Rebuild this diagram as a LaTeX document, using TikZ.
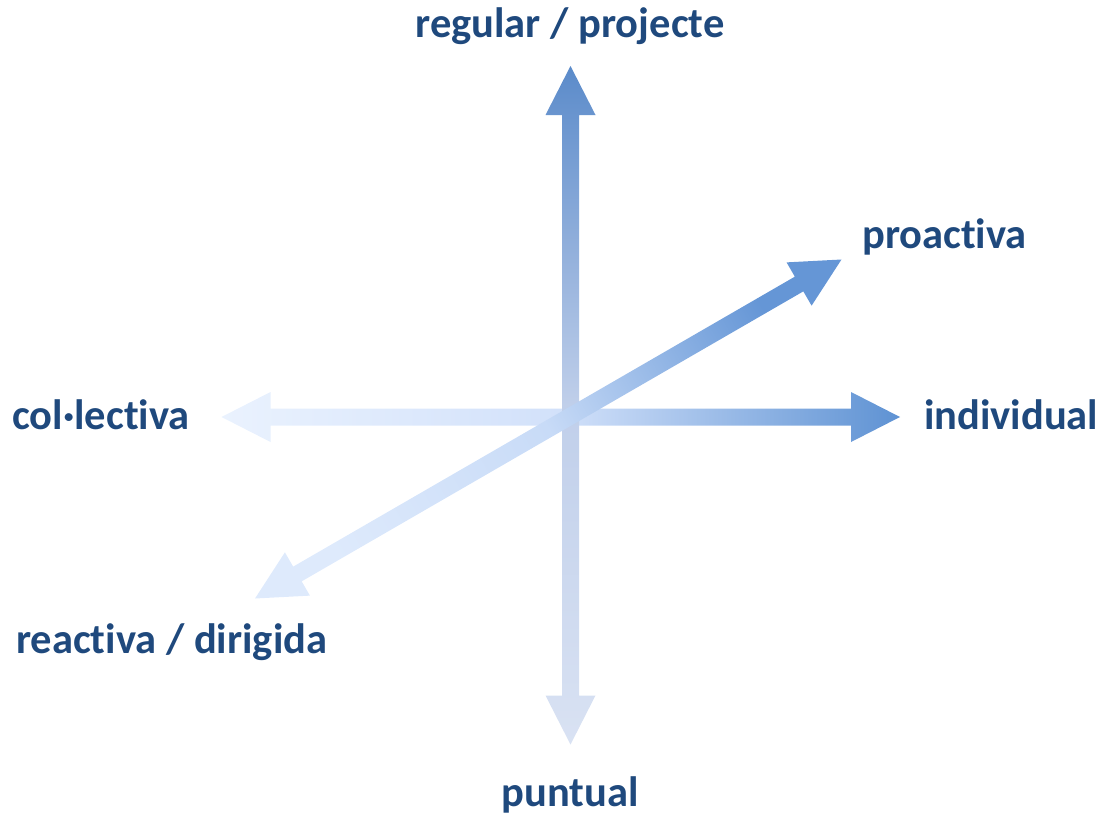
\documentclass[tikz,border=0pt]{standalone}
\usepackage{fontspec}
\setmainfont{Carlito}[Ligatures=NoCommon]
\usepackage{xcolor}
\usepackage{tikz}
\usetikzlibrary{calc}

\definecolor{labelblue}{HTML}{1F497D}
\definecolor{vdark}{HTML}{5B8BCA}
\definecolor{vmid}{HTML}{C0CFEA}
\definecolor{vlight}{HTML}{D9E2F3}
\definecolor{hdark}{HTML}{5E92D3}
\definecolor{hmid}{HTML}{D2E1FA}
\definecolor{hlight}{HTML}{EAF2FE}
\definecolor{ddark}{HTML}{6596D6}
\definecolor{dmid}{HTML}{C8DBF7}
\definecolor{dlight}{HTML}{DEEAFC}

\newcommand{\headlen}{49pt}
\newcommand{\headw}{25pt}
\newcommand{\shaftw}{8.5pt}
% #1 from, #2 to, #3 #4 #5 colours from -> to, #6 shading angle
\newcommand{\dblarrow}[6]{%
\shade[left color=#3, right color=#5, middle color=#4, shading angle=#6]
  (#1) -- ($(#1)!\headlen!(#2)!\headw!90:(#2)$) -- ($(#1)!\headlen!(#2)!\shaftw!90:(#2)$)
  -- ($(#2)!\headlen!(#1)!\shaftw!-90:(#1)$) -- ($(#2)!\headlen!(#1)!\headw!-90:(#1)$)
  -- (#2) -- ($(#2)!\headlen!(#1)!\headw!90:(#1)$) -- ($(#2)!\headlen!(#1)!\shaftw!90:(#1)$)
  -- ($(#1)!\headlen!(#2)!\shaftw!-90:(#2)$) -- ($(#1)!\headlen!(#2)!\headw!-90:(#2)$) -- cycle;}

\tikzset{axislabel/.style={text=labelblue, font=\fontsize{42.5}{50}\selectfont\bfseries, inner sep=0pt}}

\begin{document}
\begin{tikzpicture}[x=1pt, y=-1pt]
\useasboundingbox (0,0) rectangle (1106,816);
% arrow tips
\coordinate (regtip) at (570.5,66);
\coordinate (puntip) at (570.5,744.5);
\coordinate (coltip) at (221.5,417);
\coordinate (indtip) at (900,417);
\coordinate (reatip) at (255,598.5);
\coordinate (protip) at (841.5,259.5);
% axes
\dblarrow{coltip}{indtip}{hlight}{hmid}{hdark}{90}
\dblarrow{puntip}{regtip}{vlight}{vmid}{vdark}{180}
\dblarrow{reatip}{protip}{dlight}{dmid}{ddark}{120}
% labels
\node[axislabel, anchor=base] (regular) at (570,38) {regular / projecte};
\node[axislabel, anchor=base] (puntual) at (570,806) {puntual};
\node[axislabel, anchor=base west] (colectiva) at (12,429) {col·lectiva};
\node[axislabel, anchor=base west] (individual) at (924,429) {individual};
\node[axislabel, anchor=base west] (proactiva) at (862,248) {proactiva};
\node[axislabel, anchor=base west] (reactiva) at (16,653) {reactiva / dirigida};
\end{tikzpicture}
\end{document}
